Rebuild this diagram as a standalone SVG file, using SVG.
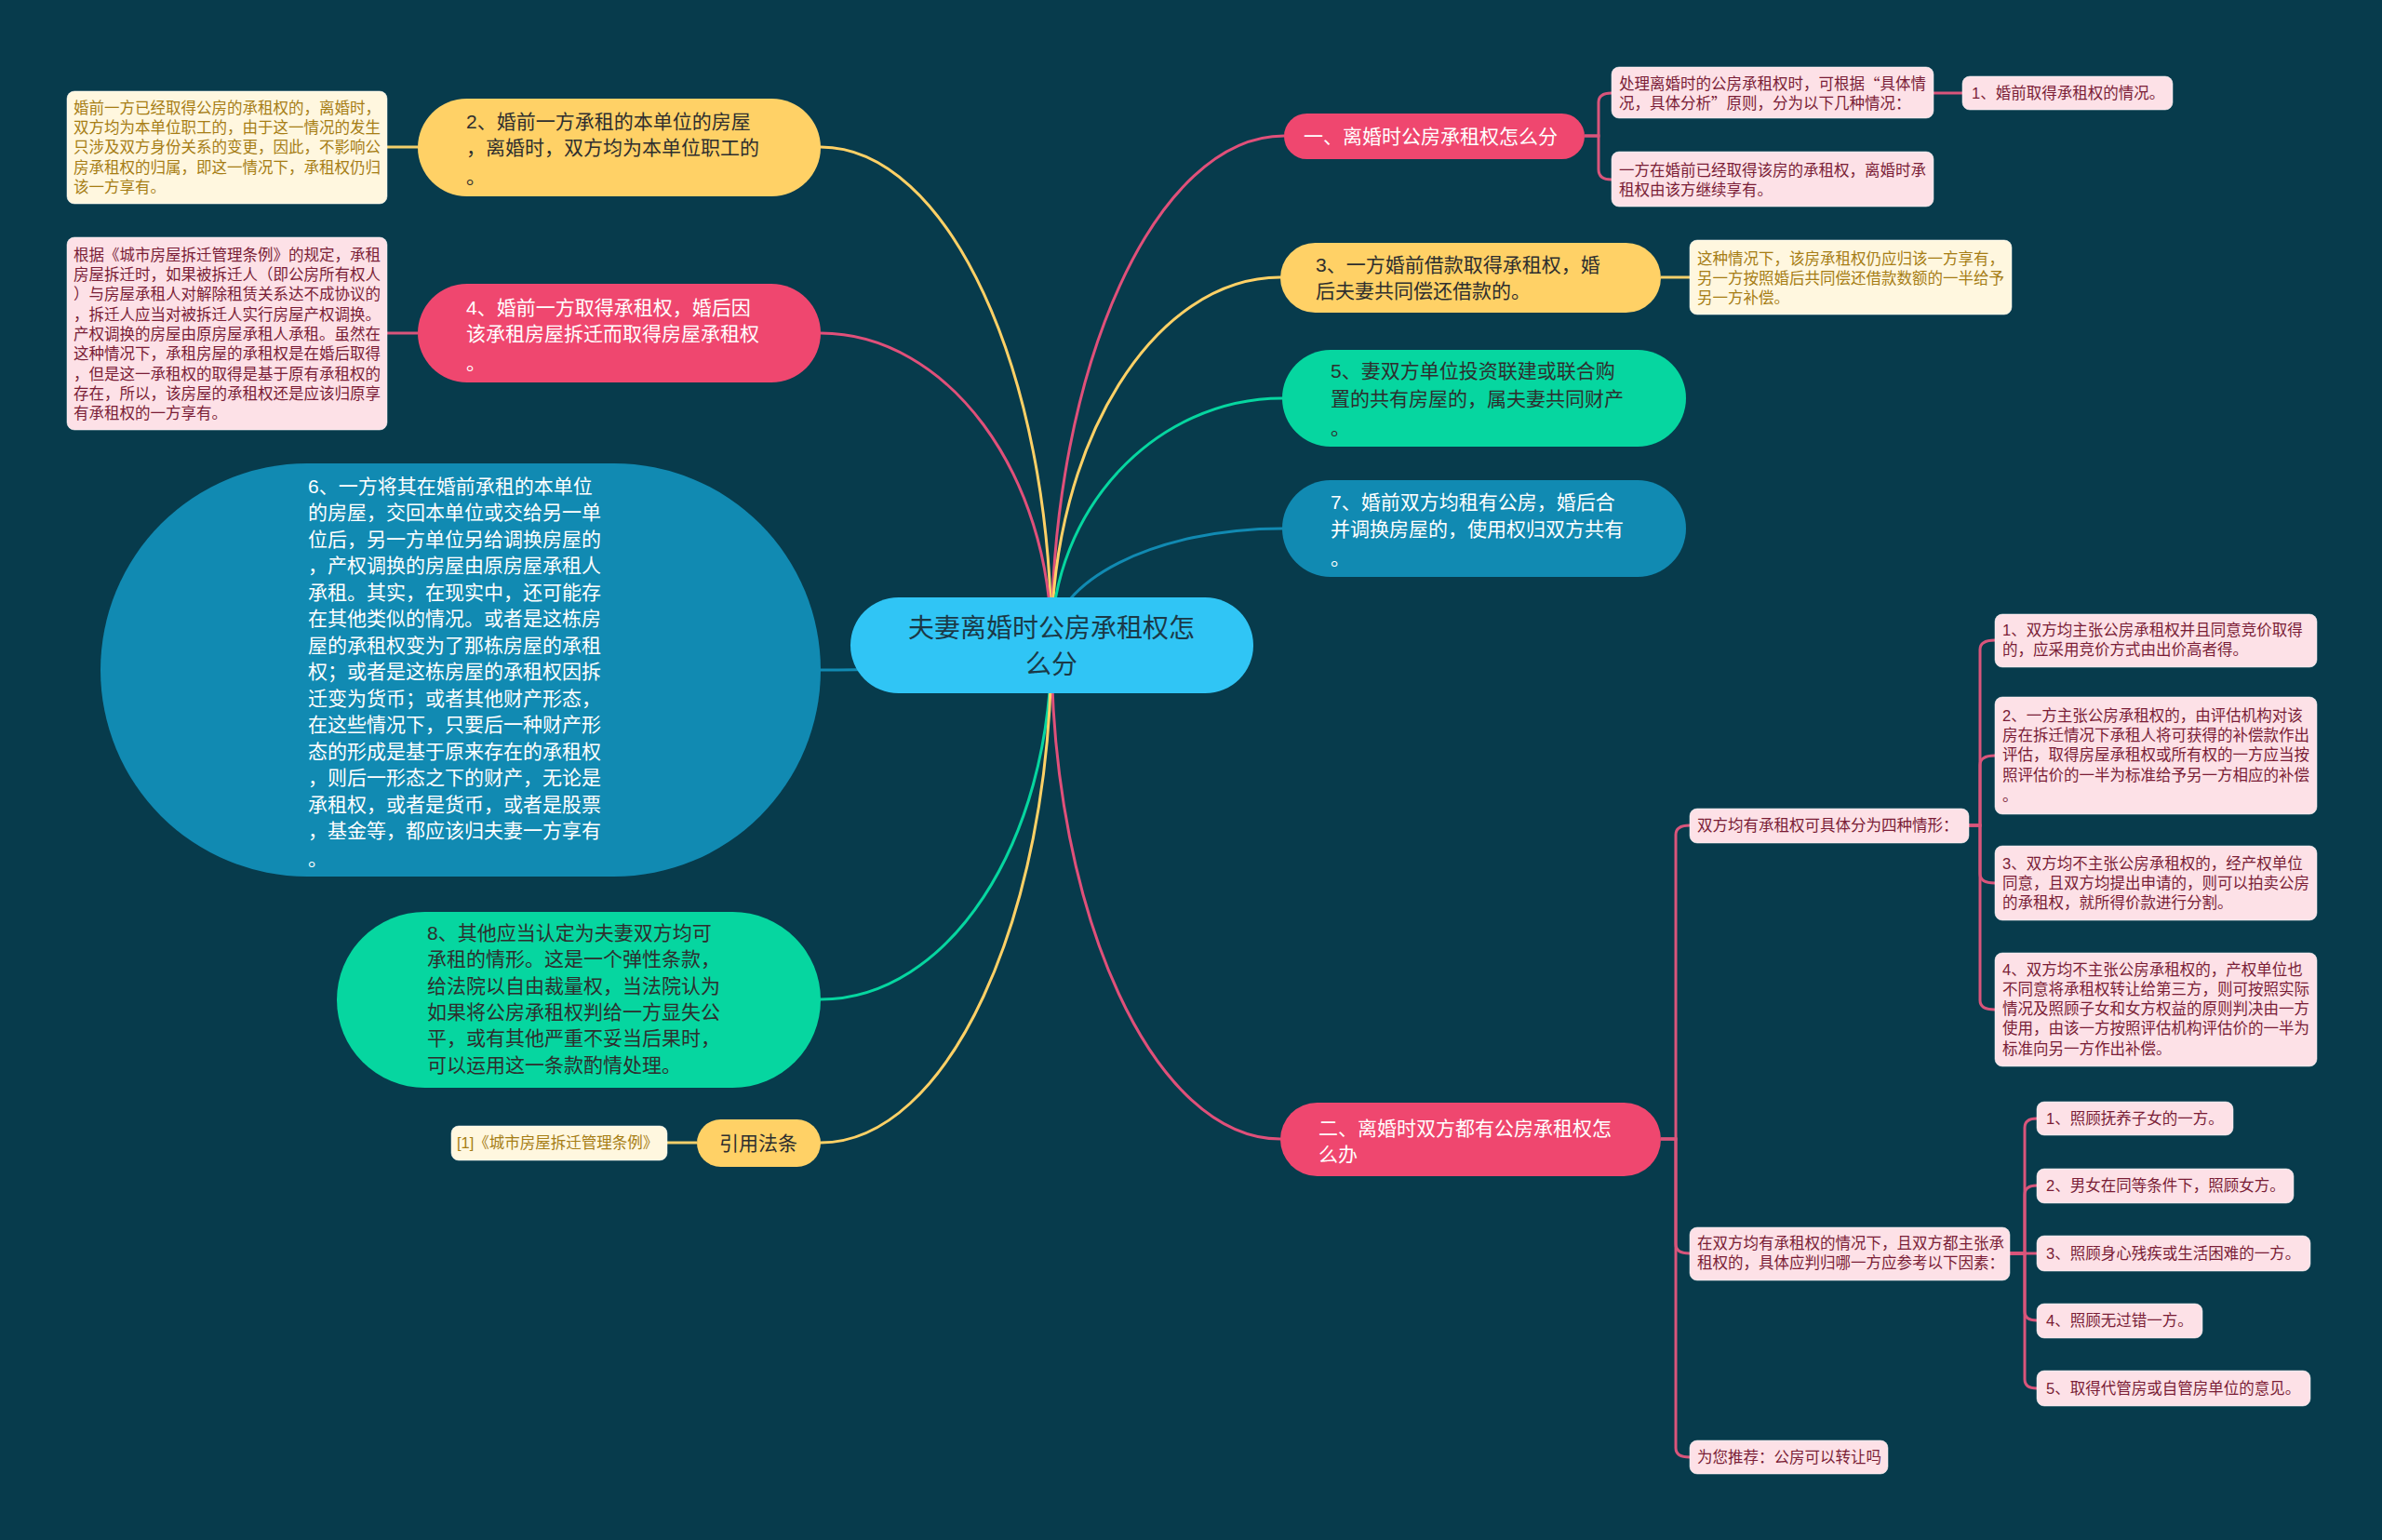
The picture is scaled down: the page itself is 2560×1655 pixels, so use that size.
<svg xmlns="http://www.w3.org/2000/svg" width="2560" height="1655" viewBox="0 0 2560 1655">
<style>
text{font-family:"Liberation Sans","Noto Sans CJK SC",sans-serif;dominant-baseline:central}
.cjk{font-family:"Noto Sans CJK SC",sans-serif}
.ln{fill:none;stroke-width:3;stroke-linecap:round}
.pk{stroke:#e0507a}.yl{stroke:#ffd166}.gr{stroke:#06d6a0}.bl{stroke:#118ab2}
.sub{fill:none;stroke-width:3;stroke:#d9557b}
.suby{fill:none;stroke-width:3;stroke:#f2cf6a}
.t21{font-size:21px}
.t16{font-size:16.5px}
.w{fill:#ffffff}.d{fill:#2e2e2e}
.pn{fill:#fde1e7;stroke:#ffffff;stroke-opacity:.5;stroke-width:1}
.cn{fill:#fff7df;stroke:#ffffff;stroke-opacity:.5;stroke-width:1}
.pt{fill:#7a1d36}.ct{fill:#a67d14}
</style>
<rect width="2560" height="1655" fill="#073b4c"/>
<g id="connectors">
<path class="ln pk" d="M1130 693 C1130 392 1243 146 1380 146"/>
<path class="ln yl" d="M1130 693 C1130 474 1241 298 1376 298"/>
<path class="ln gr" d="M1130 693 C1130 547 1242 428 1378 428"/>
<path class="ln bl" d="M1130 693 C1130 624 1242 568 1378 568"/>
<path class="ln pk" d="M1130 693 C1130 985 1241 1224 1376 1224"/>
<path class="ln yl" d="M1130 693 C1130 398 1018 158 882 158"/>
<path class="ln pk" d="M1130 693 C1130 509 1018 358 882 358"/>
<path class="ln bl" d="M1130 693 C1130 708 1018 720 882 720"/>
<path class="ln gr" d="M1130 693 C1130 908 1018 1074 882 1074"/>
<path class="ln yl" d="M1130 693 C1130 987 1018 1228 882 1228"/>
<path class="sub" d="M1703 146 H1718 V110 Q1718 100 1732 100"/>
<path class="sub" d="M1703 146 H1718 V182 Q1718 193 1732 193"/>
<path class="sub" d="M2078 100 H2109"/>
<path class="suby" d="M1785 298 H1816"/>
<path class="sub" d="M1785 1224 H1801 V897 Q1801 887 1816 887"/>
<path class="sub" d="M1785 1224 H1801 V1337 Q1801 1347 1816 1347"/>
<path class="sub" d="M1785 1224 H1801 V1556 Q1801 1566 1816 1566"/>
<path class="sub" d="M2116 887 H2128 V698 Q2128 688 2144 688"/>
<path class="sub" d="M2116 887 H2128 V822 Q2128 812 2144 812"/>
<path class="sub" d="M2116 887 H2128 V939 Q2128 949 2144 949"/>
<path class="sub" d="M2116 887 H2128 V1075 Q2128 1085 2144 1085"/>
<path class="sub" d="M2160 1347 H2176 V1212 Q2176 1202 2189 1202"/>
<path class="sub" d="M2160 1347 H2176 V1284 Q2176 1274 2189 1274"/>
<path class="sub" d="M2160 1347 H2189"/>
<path class="sub" d="M2160 1347 H2176 V1409 Q2176 1419 2189 1419"/>
<path class="sub" d="M2160 1347 H2176 V1482 Q2176 1492 2189 1492"/>
<path class="suby" d="M449 158 H416"/>
<path class="sub" d="M449 358 H416"/>
<path class="suby" d="M749 1228 H717"/>
</g>
<g id="center">
<rect x="914" y="642" width="433" height="103" rx="51.5" fill="#30c5f5"/>
<text x="1130" y="675" text-anchor="middle" font-size="28" fill="#1b3947">夫妻离婚时公房承租权怎</text>
<text x="1130" y="714" text-anchor="middle" font-size="28" fill="#1b3947">么分</text>
</g>
<g id="nodeA">
<rect x="1380" y="122" width="323" height="49" rx="24.5" fill="#ef476f"/>
<text x="1401" y="146" class="t21 w">一、离婚时公房承租权怎么分</text>
</g>
<g id="nodeA1">
<rect x="1732" y="72" width="346" height="55" rx="8" class="pn"/>
<text x="1740" y="90" class="t16 pt">处理离婚时的公房承租权时，可根据<tspan class="cjk">“</tspan>具体情</text>
<text x="1740" y="111" class="t16 pt">况，具体分析<tspan class="cjk">”</tspan>原则，分为以下几种情况：</text>
</g>
<g id="nodeA1a">
<rect x="2109" y="82" width="226" height="36" rx="8" class="pn"/>
<text x="2119" y="100" class="t16 pt">1、婚前取得承租权的情况。</text>
</g>
<g id="nodeA2">
<rect x="1732" y="163" width="346" height="59" rx="8" class="pn"/>
<text x="1740" y="183" class="t16 pt">一方在婚前已经取得该房的承租权，离婚时承</text>
<text x="1740" y="204" class="t16 pt">租权由该方继续享有。</text>
</g>
<g id="nodeB">
<rect x="1376" y="261" width="409" height="75" rx="37.5" fill="#ffd166"/>
<text x="1414" y="284" class="t21 d">3、一方婚前借款取得承租权，婚</text>
<text x="1414" y="312" class="t21 d">后夫妻共同偿还借款的。</text>
</g>
<g id="nodeB1">
<rect x="1816" y="258" width="346" height="80" rx="8" class="cn"/>
<text x="1824" y="278" class="t16 ct">这种情况下，该房承租权仍应归该一方享有，</text>
<text x="1824" y="299" class="t16 ct">另一方按照婚后共同偿还借款数额的一半给予</text>
<text x="1824" y="320" class="t16 ct">另一方补偿。</text>
</g>
<g id="nodeC">
<rect x="1378" y="376" width="434" height="104" rx="52" fill="#06d6a0"/>
<text x="1430" y="398" class="t21 d">5、妻双方单位投资联建或联合购</text>
<text x="1430" y="428" class="t21 d">置的共有房屋的，属夫妻共同财产</text>
<text x="1430" y="459" class="t21 d">。</text>
</g>
<g id="nodeD">
<rect x="1378" y="516" width="434" height="104" rx="52" fill="#118ab2"/>
<text x="1430" y="539" class="t21 w">7、婚前双方均租有公房，婚后合</text>
<text x="1430" y="568" class="t21 w">并调换房屋的，使用权归双方共有</text>
<text x="1430" y="599" class="t21 w">。</text>
</g>
<g id="nodeE">
<rect x="1376" y="1185" width="409" height="79" rx="39.5" fill="#ef476f"/>
<text x="1417" y="1212" class="t21 w">二、离婚时双方都有公房承租权怎</text>
<text x="1417" y="1240" class="t21 w">么办</text>
</g>
<g id="nodeE1">
<rect x="1816" y="869" width="300" height="37" rx="8" class="pn"/>
<text x="1824" y="887" class="t16 pt">双方均有承租权可具体分为四种情形：</text>
</g>
<g id="nodeE1a">
<rect x="2144" y="660" width="346" height="57" rx="8" class="pn"/>
<text x="2152" y="677" class="t16 pt">1、双方均主张公房承租权并且同意竞价取得</text>
<text x="2152" y="698" class="t16 pt">的，应采用竞价方式由出价高者得。</text>
</g>
<g id="nodeE1b">
<rect x="2144" y="749" width="346" height="126" rx="8" class="pn"/>
<text x="2152" y="769" class="t16 pt">2、一方主张公房承租权的，由评估机构对该</text>
<text x="2152" y="790" class="t16 pt">房在拆迁情况下承租人将可获得的补偿款作出</text>
<text x="2152" y="811" class="t16 pt">评估，取得房屋承租权或所有权的一方应当按</text>
<text x="2152" y="833" class="t16 pt">照评估价的一半为标准给予另一方相应的补偿</text>
<text x="2152" y="855" class="t16 pt">。</text>
</g>
<g id="nodeE1c">
<rect x="2144" y="909" width="346" height="80" rx="8" class="pn"/>
<text x="2152" y="928" class="t16 pt">3、双方均不主张公房承租权的，经产权单位</text>
<text x="2152" y="949" class="t16 pt">同意，且双方均提出申请的，则可以拍卖公房</text>
<text x="2152" y="970" class="t16 pt">的承租权，就所得价款进行分割。</text>
</g>
<g id="nodeE1d">
<rect x="2144" y="1024" width="346" height="122" rx="8" class="pn"/>
<text x="2152" y="1042" class="t16 pt">4、双方均不主张公房承租权的，产权单位也</text>
<text x="2152" y="1063" class="t16 pt">不同意将承租权转让给第三方，则可按照实际</text>
<text x="2152" y="1084" class="t16 pt">情况及照顾子女和女方权益的原则判决由一方</text>
<text x="2152" y="1105" class="t16 pt">使用，由该一方按照评估机构评估价的一半为</text>
<text x="2152" y="1127" class="t16 pt">标准向另一方作出补偿。</text>
</g>
<g id="nodeE2">
<rect x="1816" y="1319" width="344" height="57" rx="8" class="pn"/>
<text x="1824" y="1336" class="t16 pt">在双方均有承租权的情况下，且双方都主张承</text>
<text x="1824" y="1357" class="t16 pt">租权的，具体应判归哪一方应参考以下因素：</text>
</g>
<g id="nodeE2a">
<rect x="2189" y="1184" width="211" height="36" rx="8" class="pn"/>
<text x="2199" y="1202" class="t16 pt">1、照顾抚养子女的一方。</text>
</g>
<g id="nodeE2b">
<rect x="2189" y="1256" width="276" height="37" rx="8" class="pn"/>
<text x="2199" y="1274" class="t16 pt">2、男女在同等条件下，照顾女方。</text>
</g>
<g id="nodeE2c">
<rect x="2189" y="1328" width="294" height="38" rx="8" class="pn"/>
<text x="2199" y="1347" class="t16 pt">3、照顾身心残疾或生活困难的一方。</text>
</g>
<g id="nodeE2d">
<rect x="2189" y="1401" width="178" height="37" rx="8" class="pn"/>
<text x="2199" y="1419" class="t16 pt">4、照顾无过错一方。</text>
</g>
<g id="nodeE2e">
<rect x="2189" y="1473" width="294" height="38" rx="8" class="pn"/>
<text x="2199" y="1492" class="t16 pt">5、取得代管房或自管房单位的意见。</text>
</g>
<g id="nodeE3">
<rect x="1816" y="1548" width="213" height="36" rx="8" class="pn"/>
<text x="1824" y="1566" class="t16 pt">为您推荐：公房可以转让吗</text>
</g>
<g id="nodeF">
<rect x="449" y="106" width="433" height="105" rx="52.5" fill="#ffd166"/>
<text x="501" y="130" class="t21 d">2、婚前一方承租的本单位的房屋</text>
<text x="501" y="158" class="t21 d">，离婚时，双方均为本单位职工的</text>
<text x="501" y="189" class="t21 d">。</text>
</g>
<g id="nodeF1">
<rect x="72" y="98" width="344" height="121" rx="8" class="cn"/>
<text x="79" y="116" class="t16 ct">婚前一方已经取得公房的承租权的，离婚时，</text>
<text x="79" y="137" class="t16 ct">双方均为本单位职工的，由于这一情况的发生</text>
<text x="79" y="158" class="t16 ct">只涉及双方身份关系的变更，因此，不影响公</text>
<text x="79" y="180" class="t16 ct">房承租权的归属，即这一情况下，承租权仍归</text>
<text x="79" y="201" class="t16 ct">该一方享有。</text>
</g>
<g id="nodeG">
<rect x="449" y="305" width="433" height="106" rx="53" fill="#ef476f"/>
<text x="501" y="330" class="t21 w">4、婚前一方取得承租权，婚后因</text>
<text x="501" y="358" class="t21 w">该承租房屋拆迁而取得房屋承租权</text>
<text x="501" y="389" class="t21 w">。</text>
</g>
<g id="nodeG1">
<rect x="72" y="255" width="344" height="207" rx="8" class="pn"/>
<text x="79" y="274" class="t16 pt">根据《城市房屋拆迁管理条例》的规定，承租</text>
<text x="79" y="295" class="t16 pt">房屋拆迁时，如果被拆迁人（即公房所有权人</text>
<text x="79" y="316" class="t16 pt">）与房屋承租人对解除租赁关系达不成协议的</text>
<text x="79" y="338" class="t16 pt">，拆迁人应当对被拆迁人实行房屋产权调换。</text>
<text x="79" y="359" class="t16 pt">产权调换的房屋由原房屋承租人承租。虽然在</text>
<text x="79" y="380" class="t16 pt">这种情况下，承租房屋的承租权是在婚后取得</text>
<text x="79" y="402" class="t16 pt">，但是这一承租权的取得是基于原有承租权的</text>
<text x="79" y="423" class="t16 pt">存在，所以，该房屋的承租权还是应该归原享</text>
<text x="79" y="444" class="t16 pt">有承租权的一方享有。</text>
</g>
<g id="nodeH">
<rect x="108" y="498" width="774" height="444" rx="222" fill="#118ab2"/>
<text x="331" y="522" class="t21 w">6、一方将其在婚前承租的本单位</text>
<text x="331" y="550" class="t21 w">的房屋，交回本单位或交给另一单</text>
<text x="331" y="579" class="t21 w">位后，另一方单位另给调换房屋的</text>
<text x="331" y="607" class="t21 w">，产权调换的房屋由原房屋承租人</text>
<text x="331" y="636" class="t21 w">承租。其实，在现实中，还可能存</text>
<text x="331" y="664" class="t21 w">在其他类似的情况。或者是这栋房</text>
<text x="331" y="693" class="t21 w">屋的承租权变为了那栋房屋的承租</text>
<text x="331" y="721" class="t21 w">权；或者是这栋房屋的承租权因拆</text>
<text x="331" y="750" class="t21 w">迁变为货币；或者其他财产形态，</text>
<text x="331" y="778" class="t21 w">在这些情况下，只要后一种财产形</text>
<text x="331" y="807" class="t21 w">态的形成是基于原来存在的承租权</text>
<text x="331" y="835" class="t21 w">，则后一形态之下的财产，无论是</text>
<text x="331" y="864" class="t21 w">承租权，或者是货币，或者是股票</text>
<text x="331" y="892" class="t21 w">，基金等，都应该归夫妻一方享有</text>
<text x="331" y="922" class="t21 w">。</text>
</g>
<g id="nodeI">
<rect x="362" y="980" width="520" height="189" rx="94.5" fill="#06d6a0"/>
<text x="459" y="1002" class="t21 d">8、其他应当认定为夫妻双方均可</text>
<text x="459" y="1030" class="t21 d">承租的情形。这是一个弹性条款，</text>
<text x="459" y="1059" class="t21 d">给法院以自由裁量权，当法院认为</text>
<text x="459" y="1087" class="t21 d">如果将公房承租权判给一方显失公</text>
<text x="459" y="1115" class="t21 d">平，或有其他严重不妥当后果时，</text>
<text x="459" y="1144" class="t21 d">可以运用这一条款酌情处理。</text>
</g>
<g id="nodeJ">
<rect x="749" y="1203" width="133" height="51" rx="25.5" fill="#ffd166"/>
<text x="815" y="1228" text-anchor="middle" class="t21 d">引用法条</text>
</g>
<g id="nodeJ1">
<rect x="485" y="1210" width="232" height="37" rx="8" class="cn"/>
<text x="491" y="1228" class="t16 ct">[1]《城市房屋拆迁管理条例》</text>
</g>
</svg>
